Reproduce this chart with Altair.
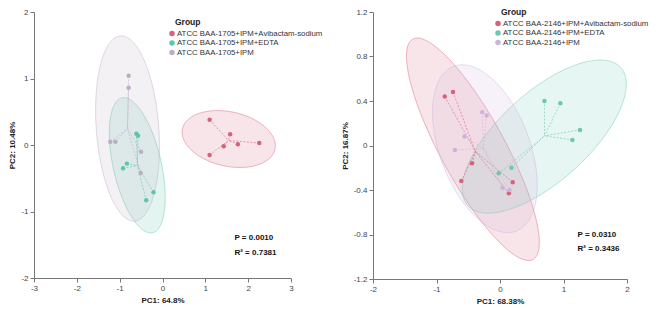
import altair as alt
import numpy as np
import pandas as pd

FONT = "Liberation Sans"

# ---------------- Left panel: ATCC BAA-1705 ----------------
groups_left = ["ATCC BAA-1705+IPM+Avibactam-sodium", "ATCC BAA-1705+IPM+EDTA", "ATCC BAA-1705+IPM"]
colors_left = ["#d6627c", "#5ec6aa", "#bcaec2"]
left_avi_pc1 = [1.10, 1.58, 1.43, 1.76, 2.26, 1.10]
left_avi_pc2 = [0.38, 0.16, -0.02, 0.01, 0.03, -0.15]
left_edta_pc1 = [-0.61, -0.57, -0.83, -0.92, -0.21, -0.38]
left_edta_pc2 = [0.17, 0.14, -0.28, -0.35, -0.71, -0.83]
left_ipm_pc1 = [-0.79, -0.79, -1.22, -1.10, -0.50, -0.51]
left_ipm_pc2 = [1.04, 0.86, 0.05, 0.05, -0.10, -0.42]
# confidence ellipses: centre and two conjugate semi-axis vectors (data units)
left_ell_centre = [(1.546, 0.090), (-0.589, -0.305), (-0.816, 0.248)]
left_ell_axis1 = [(1.079, -0.157), (0.354, -1.014), (0.164, -1.393)]
left_ell_axis2 = [(-0.146, -0.398), (0.548, 0.076), (0.727, 0.034)]
left_ticks_x = [-3, -2.5, -2, -1.5, -1, -0.5, 0, 0.5, 1, 1.5, 2, 2.5, 3]
left_ticks_y = [-2, -1.5, -1, -0.5, 0, 0.5, 1, 1.5, 2]
left_titles = ["PC1: 64.8%", "PC2: 10.48%"]
left_stats = ["P = 0.0010", "R² = 0.7381"]

# ---------------- Right panel: ATCC BAA-2146 ----------------
groups_right = ["ATCC BAA-2146+IPM+Avibactam-sodium", "ATCC BAA-2146+IPM+EDTA", "ATCC BAA-2146+IPM"]
colors_right = ["#d6627c", "#6cc8b1", "#cdb3dc"]
right_avi_pc1 = [-0.87, -0.74, -0.44, -0.61, 0.20, 0.14]
right_avi_pc2 = [0.44, 0.48, -0.16, -0.32, -0.33, -0.43]
right_edta_pc1 = [0.70, 0.95, 1.26, 1.14, -0.02, 0.18]
right_edta_pc2 = [0.40, 0.38, 0.14, 0.05, -0.25, -0.20]
right_ipm_pc1 = [-0.28, -0.21, -0.56, -0.71, 0.04, 0.15]
right_ipm_pc2 = [0.30, 0.27, 0.08, -0.04, -0.38, -0.40]
right_ell_centre = [(-0.427, -0.034), (0.697, 0.080), (-0.238, -0.029)]
right_ell_axis1 = [(0.944, -0.991), (1.197, 0.625), (0.484, -0.742)]
right_ell_axis2 = [(0.450, 0.133), (0.486, -0.288), (0.667, 0.135)]
right_ticks_x = [-2, -1.5, -1, -0.5, 0, 0.5, 1, 1.5, 2]
right_ticks_y = [-1.2, -1, -0.8, -0.6, -0.4, -0.2, 0, 0.2, 0.4, 0.6, 0.8, 1, 1.2]
right_titles = ["PC1: 68.38%", "PC2: 16.87%"]
right_stats = ["P = 0.0310", "R² = 0.3436"]


def ellipse_band(centre, a1, a2, n=181):
    A = np.array([[a1[0], a2[0]], [a1[1], a2[1]]])
    S = A @ A.T
    Q = np.linalg.inv(S)
    xr = np.sqrt(S[0, 0])
    t = np.linspace(0, np.pi, n)
    dx = -xr * np.cos(t)
    disc = np.clip(Q[0, 1] ** 2 * dx ** 2 - Q[1, 1] * (Q[0, 0] * dx ** 2 - 1), 0, None)
    y_up = (-Q[0, 1] * dx + np.sqrt(disc)) / Q[1, 1]
    y_dn = (-Q[0, 1] * dx - np.sqrt(disc)) / Q[1, 1]
    return centre[0] + dx, centre[1] + y_dn, centre[1] + y_up


def panel(groups, colors, pcs, centres, ax1, ax2, xdom, ydom, tx, ty, titles,
          stats, stats_x, stats_y, leg_x, leg_y, leg_step, width, height, ytitle_pad):
    rows = []
    for g, (xs, ys) in zip(groups, pcs):
        for a, b in zip(xs, ys):
            rows.append({"grp": g, "pc1": a, "pc2": b})
    pts = pd.DataFrame(rows)
    cen = pts.groupby("grp")[["pc1", "pc2"]].transform("mean")
    pts["cx"] = cen["pc1"]
    pts["cy"] = cen["pc2"]

    erows = []
    for g, c, u, v in zip(groups, centres, ax1, ax2):
        ex, elo, ehi = ellipse_band(c, u, v)
        for a, lo, hi in zip(ex, elo, ehi):
            erows.append({"grp": g, "x": a, "ylo": lo, "yhi": hi})
    ell = pd.DataFrame(erows)

    cs = alt.Scale(domain=groups, range=colors)
    xs = alt.Scale(domain=xdom, nice=False, zero=False)
    ys = alt.Scale(domain=ydom, nice=False, zero=False)
    common = dict(grid=False, domainColor="#777", tickColor="#777", tickSize=4,
                  labelFont=FONT, labelFontSize=8, labelColor="#444", labelPadding=2,
                  labelExpr="'' + datum.value", labelOverlap=False, labelFlush=False,
                  titleFont=FONT, titleFontSize=8, titleFontWeight="bold", titleColor="#222")
    xaxis = alt.Axis(values=tx, title=titles[0], titlePadding=4, **common)
    yaxis = alt.Axis(values=ty, title=titles[1], titlePadding=ytitle_pad, **common)

    area = alt.Chart(ell).mark_area(orient="vertical", fillOpacity=0.17, strokeWidth=0.8,
                                    strokeOpacity=0.6).encode(
        x=alt.X("x:Q", scale=xs, axis=xaxis),
        y=alt.Y("ylo:Q", scale=ys, axis=yaxis, stack=None),
        y2="yhi:Q",
        fill=alt.Fill("grp:N", scale=cs, legend=None),
        stroke=alt.Stroke("grp:N", scale=cs, legend=None),
        detail="grp:N",
    )
    spider = alt.Chart(pts).mark_rule(strokeDash=[2, 1.5], strokeWidth=0.8, opacity=0.75).encode(
        x="pc1:Q", y="pc2:Q", x2="cx:Q", y2="cy:Q",
        stroke=alt.Stroke("grp:N", scale=cs, legend=None),
    )
    dots = alt.Chart(pts).mark_circle(size=20, opacity=1).encode(
        x="pc1:Q", y="pc2:Q",
        color=alt.Color("grp:N", scale=cs, legend=None),
    )
    layers = [area, spider, dots]
    for s, sy in zip(stats, stats_y):
        layers.append(alt.Chart(pd.DataFrame({"t": [s]})).mark_text(
            align="left", baseline="middle", font=FONT, fontSize=8, fontWeight="bold",
            color="#111").encode(x=alt.datum(stats_x), y=alt.datum(sy), text="t:N"))

    # legend ("Group") drawn as marks inside the plot area
    layers.append(alt.Chart(pd.DataFrame({"t": ["Group"]})).mark_text(
        align="left", baseline="middle", font=FONT, fontSize=8.5, fontWeight="bold",
        color="#222").encode(x=alt.value(leg_x + 3), y=alt.value(leg_y), text="t:N"))
    for i, (g, c) in enumerate(zip(groups, colors)):
        yy = leg_y + leg_step * (i + 1) + 2
        one = pd.DataFrame({"t": [g]})
        layers.append(alt.Chart(one).mark_circle(size=30, opacity=1, color=c).encode(
            x=alt.value(leg_x), y=alt.value(yy)))
        layers.append(alt.Chart(one).mark_text(
            align="left", baseline="middle", font=FONT, fontSize=7.8, color="#333").encode(
            x=alt.value(leg_x + 5), y=alt.value(yy), text="t:N"))
    return alt.layer(*layers).properties(width=width, height=height)


left = panel(groups_left, colors_left,
             [(left_avi_pc1, left_avi_pc2), (left_edta_pc1, left_edta_pc2), (left_ipm_pc1, left_ipm_pc2)],
             left_ell_centre, left_ell_axis1, left_ell_axis2, [-3, 3], [-2, 2],
             left_ticks_x, left_ticks_y, left_titles, left_stats, 1.68, [-1.40, -1.62],
             138, 10, 9.5, 257, 266, 4)
right = panel(groups_right, colors_right,
              [(right_avi_pc1, right_avi_pc2), (right_edta_pc1, right_edta_pc2), (right_ipm_pc1, right_ipm_pc2)],
              right_ell_centre, right_ell_axis1, right_ell_axis2, [-2, 2], [-1.2, 1.2],
              right_ticks_x, right_ticks_y, right_titles, right_stats, 1.22, [-0.80, -0.93],
              125, 0, 9.5, 254, 267, 4)

chart = alt.hconcat(left, right, spacing=82, bounds="flush").resolve_scale(
    color="independent", fill="independent", stroke="independent", x="independent", y="independent"
).configure_view(stroke=None).properties(padding=0)

chart.save("out.html", embed_options={"renderer": "svg", "actions": False})
